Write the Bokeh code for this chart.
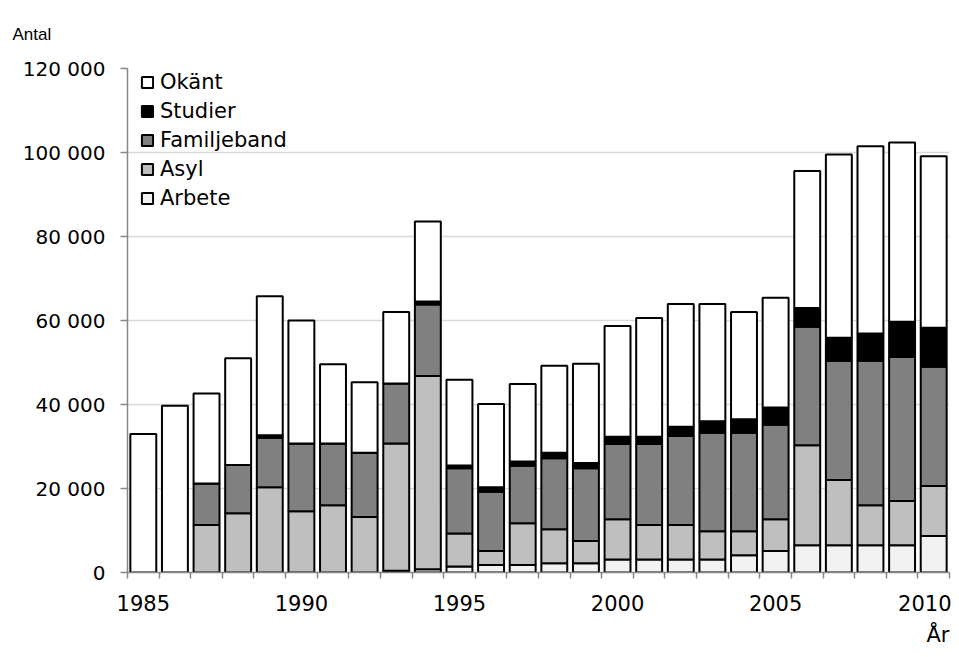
from bokeh.plotting import figure
from bokeh.models import Range1d, FixedTicker, Legend, LegendItem, Title
from bokeh.embed import file_html
from bokeh.resources import INLINE

years = list(range(1985, 2011))
arbete = [0, 0, 0, 0, 0, 0, 0, 0, 400, 800, 1400, 1800, 1800, 2200, 2200,
          3100, 3100, 3100, 3100, 4100, 5100, 6500, 6500, 6500, 6500, 8700]
asyl = [0, 0, 11300, 14100, 20300, 14600, 16000, 13200, 30300, 46000, 7900, 3300, 9900, 8100, 5300,
        9600, 8200, 8200, 6700, 5700, 7600, 23800, 15500, 9500, 10500, 11900]
familjeband = [0, 0, 9900, 11500, 11800, 16100, 14700, 15300, 14300, 17000, 15500, 14100, 13700, 16900, 17300,
               17900, 19300, 21200, 23500, 23500, 22500, 28200, 28400, 34400, 34300, 28400]
studier = [0, 0, 0, 0, 600, 0, 0, 0, 0, 700, 700, 1100, 1000, 1300, 1300,
           1700, 1700, 2200, 2700, 3200, 4100, 4500, 5500, 6500, 8400, 9300]
okant = [33000, 39700, 21400, 25400, 33100, 29300, 18900, 16800, 17000, 19100, 20400, 19800, 18500, 20700, 23600,
         26400, 28300, 29200, 27900, 25500, 26100, 32600, 43600, 44600, 42700, 40800]

series = ["Arbete", "Asyl", "Familjeband", "Studier", "Okänt"]
colors = ["#f2f2f2", "#bfbfbf", "#808080", "#000000", "#ffffff"]
y_ticks = [0, 20000, 40000, 60000, 80000, 100000, 120000]
y_tick_labels = ["0", "20 000", "40 000", "60 000", "80 000", "100 000", "120 000"]
x_label_years = [1985, 1990, 1995, 2000, 2005, 2010]

FONT = "DejaVu Sans"
n = len(years)
xs = [i + 0.5 for i in range(n)]

data = dict(x=xs, Arbete=arbete, Asyl=asyl, Familjeband=familjeband, Studier=studier)
data["Okänt"] = okant

p = figure(width=951, height=653, x_range=Range1d(0, n), y_range=Range1d(0, 120000),
           output_backend="svg", toolbar_location=None,
           min_border_left=127, min_border_right=2, min_border_top=68, min_border_bottom=80)
p.outline_line_color = None
p.background_fill_color = "white"

renderers = p.vbar_stack(series, x="x", width=0.82, source=data, fill_color=colors,
                         line_color="black", line_width=2)

# axes
p.xaxis.ticker = FixedTicker(ticks=[xs[y - 1985] for y in x_label_years], minor_ticks=list(range(n + 1)))
p.xaxis.major_label_overrides = {xs[y - 1985]: str(y) for y in x_label_years}
p.xaxis.major_tick_line_color = None
p.xaxis.major_tick_out = 6
p.xaxis.major_tick_in = 0
p.xaxis.minor_tick_out = 6
p.xaxis.minor_tick_in = 0
p.xaxis.minor_tick_line_color = "#868686"
p.xaxis.minor_tick_line_width = 1.5
p.xaxis.axis_line_color = "#868686"
p.xaxis.axis_line_width = 1.5
p.xaxis.major_label_text_font = FONT
p.xaxis.major_label_text_font_size = "21px"
p.xaxis.major_label_text_color = "black"
p.xaxis.major_label_standoff = 16

p.yaxis.ticker = FixedTicker(ticks=y_ticks)
p.yaxis.major_label_overrides = {t: l for t, l in zip(y_ticks, y_tick_labels)}
p.yaxis.minor_tick_line_color = None
p.yaxis.major_tick_out = 7
p.yaxis.major_tick_in = 0
p.yaxis.major_tick_line_color = "#868686"
p.yaxis.major_tick_line_width = 1.5
p.yaxis.axis_line_color = "#868686"
p.yaxis.axis_line_width = 1.5
p.yaxis.major_label_text_font = FONT
p.yaxis.major_label_text_font_size = "20px"
p.yaxis.major_label_text_color = "black"
p.yaxis.major_label_standoff = 15

p.xgrid.grid_line_color = None
p.ygrid.ticker = FixedTicker(ticks=y_ticks)
p.ygrid.grid_line_color = "#d9d9d9"
p.ygrid.grid_line_width = 1.5

# legend (top to bottom: Okänt, Studier, Familjeband, Asyl, Arbete)
items = [LegendItem(label=series[i], renderers=[renderers[i]]) for i in [4, 3, 2, 1, 0]]
legend = Legend(items=items, location=(13, 362), margin=0, padding=0,
                glyph_width=14, glyph_height=14, label_height=24, spacing=5,
                label_standoff=6, label_text_font=FONT, label_text_font_size="21px",
                label_text_color="black",
                background_fill_alpha=0, border_line_color=None)
p.add_layout(legend, "center")

p.add_layout(Title(text="Antal", align="left", offset=-115, standoff=46, vertical_align="top",
                   text_font="Liberation Sans", text_font_size="17px",
                   text_font_style="normal", text_color="black"), "above")
p.add_layout(Title(text="År", align="right", standoff=14, vertical_align="bottom",
                   text_font=FONT, text_font_size="21px",
                   text_font_style="normal", text_color="black"), "below")

open("out.html", "w").write(file_html(p, INLINE))
